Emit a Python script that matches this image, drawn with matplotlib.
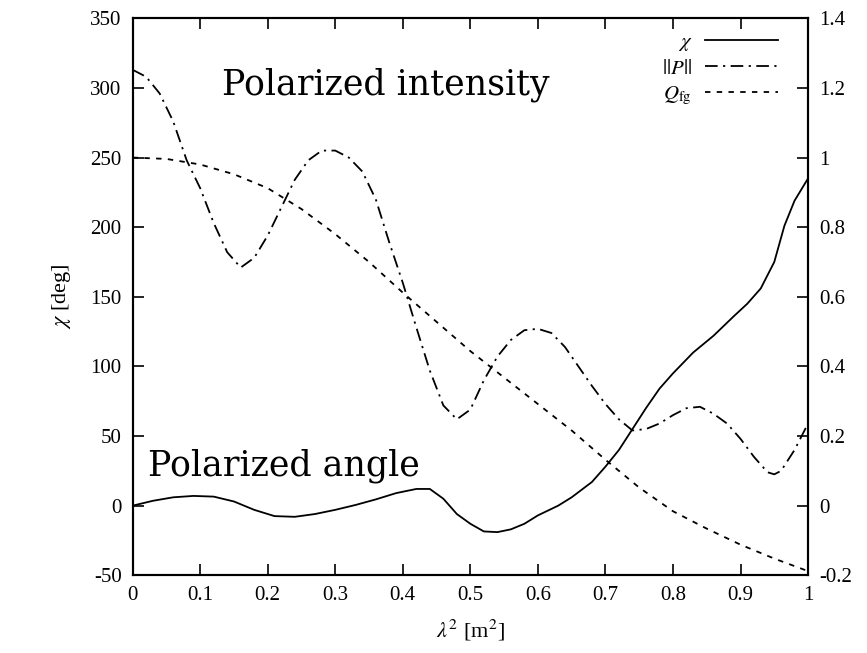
import matplotlib
matplotlib.use("Agg")
import matplotlib.pyplot as plt
from matplotlib.ticker import FormatStrFormatter

plt.rcParams['font.family'] = ['Liberation Serif', 'DejaVu Serif']
plt.rcParams['mathtext.fontset'] = 'stix'
plt.rcParams['axes.unicode_minus'] = False

# polarization angle chi [deg] (left axis)
chi_x = [0.00, 0.03, 0.06, 0.09, 0.12, 0.15, 0.18, 0.21, 0.24, 0.27, 0.30,
         0.33, 0.36, 0.39, 0.42, 0.44, 0.46, 0.48, 0.50, 0.52, 0.54, 0.56,
         0.58, 0.60, 0.63, 0.65, 0.68, 0.70, 0.72, 0.74, 0.76, 0.78, 0.80,
         0.83, 0.86, 0.89, 0.91, 0.93, 0.95, 0.965, 0.98, 1.00]
chi_y = [0, 3.5, 6, 7, 6.5, 3, -3, -7.5, -8, -6, -3,
         0.5, 4.5, 9, 12, 12, 5, -6, -13, -18.5, -19, -17,
         -13, -7, 0, 6, 17, 28, 40, 55, 70, 84, 95,
         110, 122, 136, 145, 156, 175, 201, 219, 235]

# polarized intensity ||P|| (right axis units)
p_x = [0.00, 0.02, 0.04, 0.06, 0.08, 0.10, 0.12, 0.14, 0.16, 0.18, 0.20,
       0.22, 0.24, 0.26, 0.28, 0.30, 0.32, 0.34, 0.36, 0.38, 0.40, 0.42,
       0.44, 0.46, 0.48, 0.50, 0.52, 0.54, 0.56, 0.58, 0.60, 0.62, 0.64,
       0.66, 0.68, 0.70, 0.72, 0.74, 0.76, 0.78, 0.80, 0.82, 0.84, 0.86,
       0.88, 0.90, 0.92, 0.94, 0.95, 0.96, 0.98, 1.00]
p_y = [1.252, 1.232, 1.184, 1.104, 0.992, 0.912, 0.812, 0.728, 0.684, 0.712, 0.776,
       0.856, 0.936, 0.992, 1.020, 1.020, 1.000, 0.960, 0.880, 0.756, 0.640, 0.512,
       0.388, 0.288, 0.248, 0.276, 0.360, 0.428, 0.476, 0.504, 0.508, 0.496, 0.456,
       0.400, 0.344, 0.292, 0.248, 0.216, 0.220, 0.236, 0.260, 0.280, 0.284, 0.264,
       0.236, 0.192, 0.140, 0.096, 0.090, 0.100, 0.160, 0.236]

# foreground Q_fg (right axis units)
q_x = [0.00, 0.05, 0.10, 0.15, 0.20, 0.25, 0.30, 0.35, 0.40, 0.45, 0.50,
       0.55, 0.60, 0.65, 0.70, 0.75, 0.80, 0.85, 0.90, 0.95, 1.00]
q_y = [1.000, 0.996, 0.980, 0.952, 0.912, 0.852, 0.780, 0.700, 0.612, 0.528, 0.444,
       0.368, 0.292, 0.216, 0.132, 0.052, -0.016, -0.066, -0.112, -0.152, -0.188]

fig = plt.figure(figsize=(8.67, 6.53), dpi=100)
ax = fig.add_axes([0.153, 0.119, 0.779, 0.853])
ax2 = ax.twinx()

l1, = ax.plot(chi_x, chi_y, color='black', lw=1.3, label=r'$\chi$')
l2, = ax2.plot(p_x, p_y, color='black', lw=1.3, dashes=(7, 3, 1.2, 3),
               label=r'$||P||$')
l3, = ax2.plot(q_x, q_y, color='black', lw=1.3, dashes=(3, 3.5),
               label=r'$Q_{\mathrm{fg}}$')

ax.set_xlim(0, 1)
ax.set_ylim(-50, 350)
ax2.set_ylim(-0.2, 1.4)
ax.set_xticks([i / 10 for i in range(11)])
ax.set_yticks(range(-50, 351, 50))
ax2.set_yticks([-0.2, 0, 0.2, 0.4, 0.6, 0.8, 1.0, 1.2, 1.4])
ax.xaxis.set_major_formatter(FormatStrFormatter('%g'))
ax2.yaxis.set_major_formatter(FormatStrFormatter('%g'))

ax.tick_params(axis='x', direction='in', top=True, length=8, width=1.2,
               labelsize=15, pad=8)
ax.tick_params(axis='y', direction='in', length=8, width=1.2, labelsize=15, pad=8)
ax2.tick_params(axis='y', direction='in', length=8, width=1.2, labelsize=15, pad=8)
for a in (ax, ax2):
    for s in a.spines.values():
        s.set_linewidth(1.5)

ax.set_xlabel(r'$\lambda^2$ [m$^2$]', fontsize=16, labelpad=9)
ax.set_ylabel(r'$\chi$ [deg]', fontsize=16, labelpad=12)

ax.text(0.132, 302, 'Polarized intensity', family='DejaVu Serif', fontsize=25,
        ha='left', va='center')
ax.text(0.022, 29, 'Polarized angle', family='DejaVu Serif', fontsize=25,
        ha='left', va='center')

ax2.legend(handles=[l1, l2, l3], loc='upper right', bbox_to_anchor=(0.955, 0.975),
           frameon=False, markerfirst=False, fontsize=15, handlelength=3.5,
           handletextpad=0.6, labelspacing=0.3, borderpad=0, borderaxespad=0)

fig.savefig('out.png', dpi=100)
